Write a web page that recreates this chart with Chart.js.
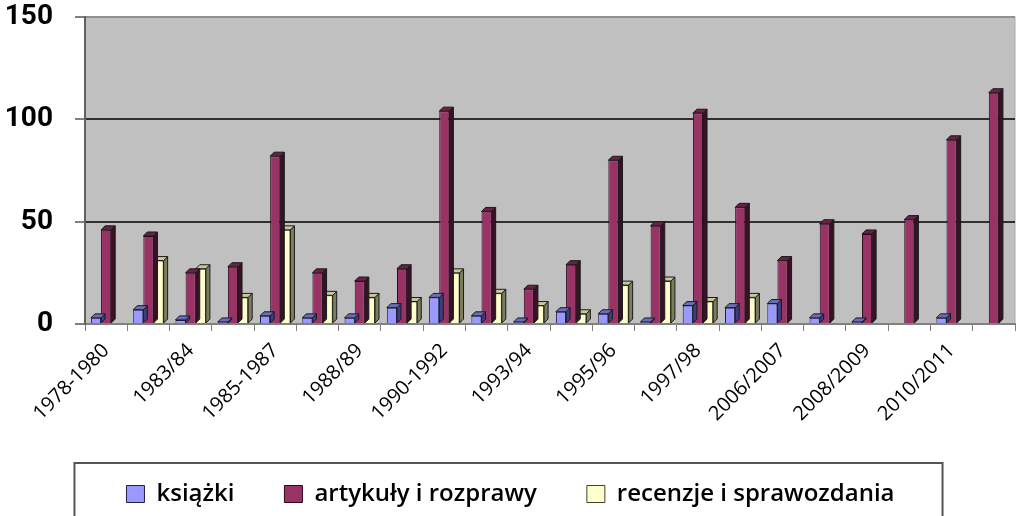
<!DOCTYPE html>
<html>
<head>
<meta charset="utf-8">
<title>Publikacje</title>
<script src="https://cdn.jsdelivr.net/npm/chart.js@4.4.1/dist/chart.umd.min.js"></script>
<style>
  html, body { margin: 0; padding: 0; background: #fff; }
  #wrap { width: 1019px; height: 516px; }
</style>
</head>
<body>
<div id="wrap"><canvas id="pubChart"></canvas></div>
<script>
// Periods - the original only prints every second label
const periods = ["1978-1980", "", "1983/84", "", "1985-1987", "", "1988/89", "", "1990-1992", "", "1993/94", "",
  "1995/96", "", "1997/98", "", "2006/2007", "", "2008/2009", "", "2010/2011", ""]

const ksiazki = [3, 7, 2, 1, 4, 3, 3, 8, 13, 4, 1, 6, 5, 1, 9, 8, 10, 3, 1, 0, 3, 0]
const artykuly = [46, 43, 25, 28, 82, 25, 21, 27, 104, 55, 17, 29, 80, 48, 103, 57, 31, 49, 44, 51, 90, 113]
const recenzje = [0, 31, 27, 13, 46, 14, 13, 11, 25, 15, 9, 5, 19, 21, 11, 13, 0, 0, 0, 0, 0, 0]

const yMax = 150
const yStep = 50

// Grey plot background
const plotBackground = {
  id: "plotBackground",
  beforeDraw(chart) {
    const { ctx, chartArea: a } = chart
    ctx.save()
    ctx.fillStyle = "#c0c0c0"
    ctx.fillRect(a.left, a.top, a.right - a.left, a.bottom - a.top)
    ctx.strokeStyle = "#a8a8a8"
    ctx.lineWidth = 1
    ctx.strokeRect(a.left, a.top, a.right - a.left, a.bottom - a.top)
    ctx.restore()
  },
}

// Fake 3D: side and top faces drawn after each dataset so the next one covers them
const depth = 4
const bar3d = {
  id: "bar3d",
  afterDatasetDraw(chart, args) {
    const ds = chart.data.datasets[args.index]
    const ctx = chart.ctx
    ctx.save()
    ctx.lineWidth = 1
    ctx.strokeStyle = "#1a1a1a"
    args.meta.data.forEach((bar, i) => {
      if (!ds.data[i]) return
      const { x, y, base, width } = bar.getProps(["x", "y", "base", "width"], true)
      const l = x - width / 2
      const r = x + width / 2
      ctx.fillStyle = ds.sideColor
      ctx.beginPath()
      ctx.moveTo(r, y)
      ctx.lineTo(r + depth, y - depth)
      ctx.lineTo(r + depth, base - depth)
      ctx.lineTo(r, base)
      ctx.closePath()
      ctx.fill()
      ctx.stroke()
      ctx.fillStyle = ds.topColor
      ctx.beginPath()
      ctx.moveTo(l, y)
      ctx.lineTo(l + depth, y - depth)
      ctx.lineTo(r + depth, y - depth)
      ctx.lineTo(r, y)
      ctx.closePath()
      ctx.fill()
      ctx.stroke()
    })
    ctx.restore()
  },
}

// Frame around the legend like the original
const legendFrame = {
  id: "legendFrame",
  afterDraw(chart) {
    const boxes = chart.legend.legendHitBoxes
    if (!boxes || !boxes.length) return
    const first = boxes[0]
    const last = boxes[boxes.length - 1]
    const cy = first.top + first.height / 2
    const ctx = chart.ctx
    ctx.save()
    ctx.strokeStyle = "#555"
    ctx.lineWidth = 2
    ctx.strokeRect(first.left - 52, cy - 31, last.left + last.width + 48 - (first.left - 52), 80)
    ctx.restore()
  },
}

const ctx = document.getElementById("pubChart").getContext("2d")
new Chart(ctx, {
  type: "bar",
  data: {
    labels: periods,
    datasets: [
      {
        label: "książki",
        data: ksiazki,
        backgroundColor: "#9999ff",
        sideColor: "#3d3d80",
        topColor: "#6b6bc0",
        borderColor: "#202040",
        borderWidth: 1,
      },
      {
        label: "artykuły i rozprawy",
        data: artykuly,
        backgroundColor: "#993366",
        sideColor: "#3a1026",
        topColor: "#6a2146",
        borderColor: "#2a0a1a",
        borderWidth: 1,
      },
      {
        label: "recenzje i sprawozdania",
        data: recenzje,
        backgroundColor: "#ffffcc",
        sideColor: "#7d7d5e",
        topColor: "#c8c89a",
        borderColor: "#404030",
        borderWidth: 1,
      },
    ],
  },
  options: {
    responsive: true,
    maintainAspectRatio: false,
    animation: false,
    layout: { padding: { left: 6, right: 4, top: 17, bottom: 0 } },
    datasets: {
      bar: { categoryPercentage: 0.72, barPercentage: 1.0 },
    },
    scales: {
      x: {
        afterFit: (scale) => { scale.height = 108 },
        grid: { offset: true, drawOnChartArea: false, drawTicks: true, tickLength: 7, color: "#808080" },
        border: { color: "#808080", width: 2 },
        ticks: {
          autoSkip: false,
          maxRotation: 45,
          minRotation: 45,
          padding: 8,
          color: "#000",
          font: { family: "'Open Sans', sans-serif", size: 20 },
        },
      },
      y: {
        min: 0,
        max: yMax,
        afterFit: (scale) => {
          scale.width = 79
          scale.paddingTop = 0
          scale.paddingBottom = 0
        },
        ticks: {
          stepSize: yStep,
          padding: 22,
          color: "#000",
          font: { family: "Roboto, sans-serif", size: 28, weight: "bold" },
        },
        grid: {
          color: (c) => (c.tick.value === 0 ? "#808080" : c.tick.value === yMax ? "#909090" : "#303030"),
          lineWidth: 2,
          tickLength: 10,
          tickColor: "#808080",
        },
        border: { color: "#606060", width: 2 },
      },
    },
    plugins: {
      legend: {
        position: "bottom",
        labels: {
          color: "#000",
          boxWidth: 18,
          boxHeight: 17,
          padding: 50,
          font: { family: "'Open Sans', sans-serif", size: 24, weight: "600" },
        },
      },
      tooltip: { enabled: false },
    },
  },
  plugins: [plotBackground, bar3d, legendFrame],
})
</script>
</body>
</html>
